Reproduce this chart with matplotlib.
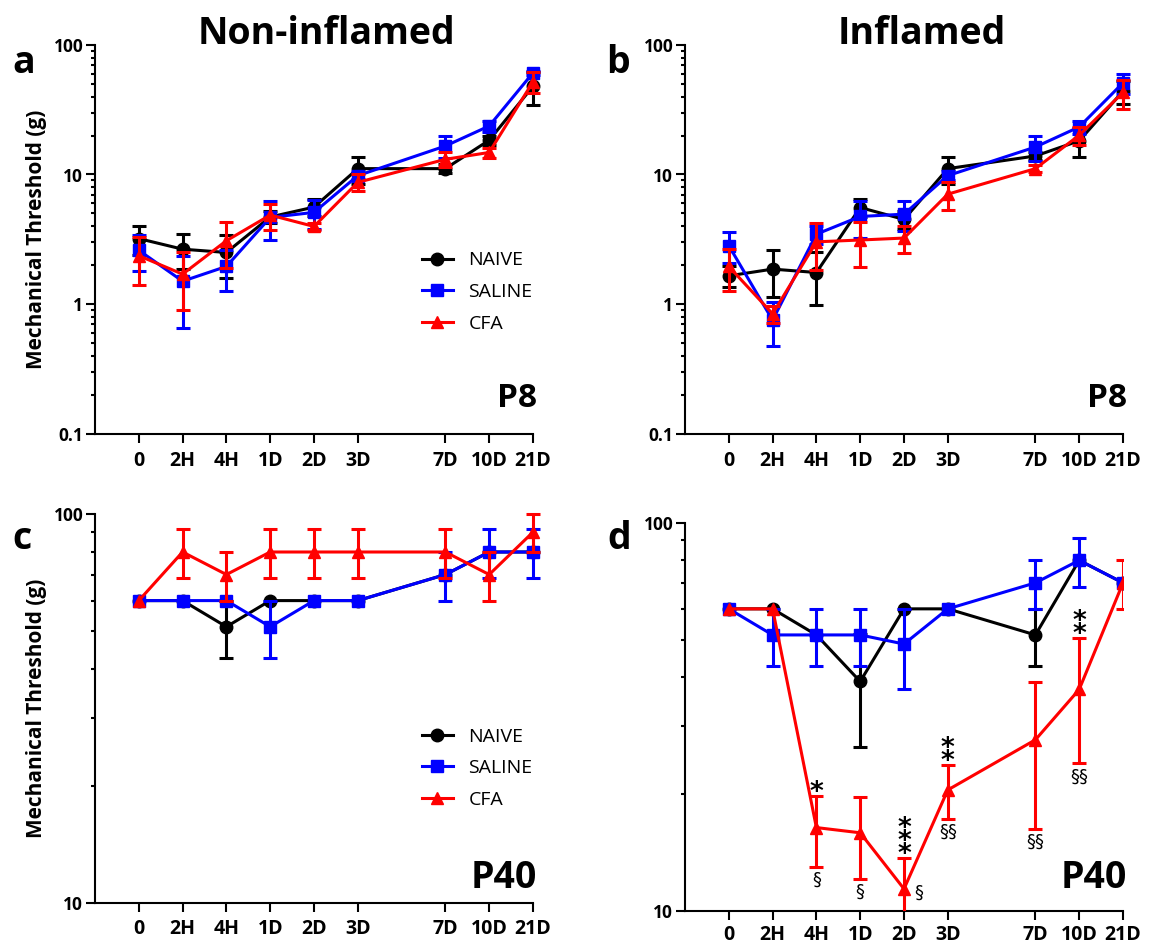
import numpy as np
import matplotlib
matplotlib.use("Agg")
import matplotlib.pyplot as plt
from matplotlib.ticker import FixedLocator, FixedFormatter, LogLocator, NullFormatter
from matplotlib.textpath import TextPath
from matplotlib.font_manager import FontProperties

plt.rcParams['font.family'] = ['Open Sans', 'DejaVu Sans']

# ---- data -------------------------------------------------------------
timepoints = ['0', '2H', '4H', '1D', '2D', '3D', '7D', '10D', '21D']
x_pos = [0, 1, 2, 3, 4, 5, 7, 8, 9]
groups = ['NAIVE', 'SALINE', 'CFA']

# P8, non-inflamed paw (mean, SEM)
a_naive = [3.2, 2.65, 2.5, 4.7, 5.6, 11.1, 11.1, 18.4, 48.0]
a_naive_sem = [0.8, 0.8, 0.9, 0.5, 0.85, 2.6, 0.9, 1.5, 13.8]
a_saline = [2.6, 1.5, 1.95, 4.66, 5.1, 9.8, 16.6, 23.7, 61.0]
a_saline_sem = [0.8, 0.85, 0.68, 1.55, 1.3, 0.6, 3.3, 2.3, 2.5]
a_cfa = [2.36, 1.70, 3.08, 4.86, 3.97, 8.7, 13.1, 14.8, 52.0]
a_cfa_sem = [0.95, 0.8, 1.2, 1.1, 0.25, 1.3, 1.7, 1.3, 9.5]

# P8, inflamed paw
b_naive = [1.65, 1.86, 1.75, 5.56, 4.5, 11.1, 13.9, 18.2, 44.0]
b_naive_sem = [0.3, 0.73, 0.77, 0.9, 0.7, 2.6, 1.0, 4.5, 9.0]
b_saline = [2.82, 0.75, 3.46, 4.74, 4.94, 9.8, 16.3, 23.3, 51.0]
b_saline_sem = [0.75, 0.28, 0.55, 1.5, 1.25, 0.8, 3.6, 2.7, 9.0]
b_cfa = [1.95, 0.84, 3.02, 3.12, 3.23, 7.05, 11.1, 20.1, 43.0]
b_cfa_sem = [0.7, 0.13, 1.2, 1.2, 0.75, 1.7, 0.7, 3.2, 11.0]

# P40, non-inflamed paw
c_naive = [60, 60, 51.4, 60, 60, 60, 70, 80, 80]
c_naive_sem = [0, 0, 8.6, 0, 0, 0, 0, 0, 0]
c_saline = [60, 60, 60, 51.4, 60, 60, 70, 80, 80]
c_saline_sem = [0, 0, 0, 8.6, 0, 0, 10, 11.5, 11.5]
c_cfa = [60, 80, 70, 80, 80, 80, 80, 70, 90]
c_cfa_sem = [0, 11.5, 10, 11.5, 11.5, 11.5, 11.5, 10, 10]

# P40, inflamed paw
d_naive = [60, 60, 51.4, 39.0, 60, 60, 51.4, 80, 70]
d_naive_sem = [0, 0, 0, 12.6, 0, 0, 8.6, 0, 0]
d_saline = [60, 51.4, 51.4, 51.4, 48.7, 60, 70, 80, 70]
d_saline_sem = [0, 8.6, 8.6, 8.6, 11.3, 0, 10, 11.5, 0]
d_cfa = [60, 60, 16.4, 15.9, 11.4, 20.5, 27.6, 37.2, 70]
d_cfa_sem = [0, 0, 3.4, 3.8, 2.3, 3.2, 11.3, 13.2, 10]

# significance marks for CFA in the inflamed P40 paw
d_stars = ['', '', '*', '', '***', '**', '', '**', '']
d_sections = ['', '', '§', '§', '§', '§§', '§§', '§§', '']

# ---- styling ----------------------------------------------------------
colors = {'NAIVE': '#000000', 'SALINE': '#0000FF', 'CFA': '#FF0000'}
markers = {'NAIVE': 'o', 'SALINE': 's', 'CFA': '^'}
LW = 2.2
MS = 9

W, H = 1150, 946
fig = plt.figure(figsize=(W / 100, H / 100), dpi=100)


def px_rect(left, right, top, bottom):
    return [left / W, 1 - bottom / H, (right - left) / W, (bottom - top) / H]


ax_a = fig.add_axes(px_rect(95, 533, 45, 433.5))
ax_b = fig.add_axes(px_rect(685, 1123, 45, 433.5))
ax_c = fig.add_axes(px_rect(95, 533, 514.3, 903.3))
ax_d = fig.add_axes(px_rect(685, 1123, 522.7, 911))


def draw_panel(ax, series, ylim, yticks, clip, stage, stage_size, stage_base,
               xpad):
    x = np.array(x_pos, dtype=float)
    for z, (name, vals, sem) in enumerate(series):
        vals = np.asarray(vals, dtype=float)
        sem = np.asarray(sem, dtype=float)
        c = colors[name]
        ax.plot(x, vals, color=c, lw=LW, marker=markers[name], ms=MS,
                mec=c, mfc=c, zorder=3 + z, clip_on=clip, label=name)
        m = sem > 0
        eb = ax.errorbar(x[m], vals[m], yerr=sem[m], fmt='none', ecolor=c,
                         elinewidth=LW, capsize=5, capthick=LW, zorder=3 + z)
        for art in eb.get_children():
            art.set_clip_on(clip)
    ax.set_yscale('log')
    ax.set_ylim(*ylim)
    ax.set_xlim(-1, 9)
    ax.yaxis.set_major_locator(FixedLocator(yticks))
    ax.yaxis.set_major_formatter(FixedFormatter([f'{t:g}' for t in yticks]))
    ax.yaxis.set_minor_locator(LogLocator(base=10, subs=np.arange(2, 10)))
    ax.yaxis.set_minor_formatter(NullFormatter())
    ax.set_xticks(x_pos)
    ax.set_xticklabels(timepoints)
    ax.xaxis.set_minor_locator(FixedLocator([]))
    for s in ('top', 'right'):
        ax.spines[s].set_visible(False)
    for s in ('left', 'bottom'):
        ax.spines[s].set_linewidth(1.5)
    ax.tick_params(axis='both', which='major', direction='out', length=6.5,
                   width=1.5, color='black')
    ax.tick_params(axis='y', which='minor', direction='out', length=3,
                   width=1.5)
    ax.tick_params(axis='y', which='major', labelsize=12.5, pad=2)
    ax.tick_params(axis='x', which='major', labelsize=14, pad=xpad)
    for lab in ax.get_xticklabels() + ax.get_yticklabels():
        lab.set_fontweight('bold')
    # stage label in the lower right corner, baseline given in pixels
    bb = ax.get_position()
    y_ax = ((1 - stage_base / H) - bb.y0) / bb.height
    ax.text(1.009, y_ax, stage, transform=ax.transAxes, ha='right',
            va='baseline', fontsize=stage_size, fontweight='bold')


draw_panel(ax_a, [('NAIVE', a_naive, a_naive_sem),
                  ('SALINE', a_saline, a_saline_sem),
                  ('CFA', a_cfa, a_cfa_sem)],
           (0.1, 100), [0.1, 1, 10, 100], False, 'P8', 24, 407, 6)
draw_panel(ax_b, [('NAIVE', b_naive, b_naive_sem),
                  ('SALINE', b_saline, b_saline_sem),
                  ('CFA', b_cfa, b_cfa_sem)],
           (0.1, 100), [0.1, 1, 10, 100], False, 'P8', 24, 407, 6)
draw_panel(ax_c, [('NAIVE', c_naive, c_naive_sem),
                  ('SALINE', c_saline, c_saline_sem),
                  ('CFA', c_cfa, c_cfa_sem)],
           (10, 100), [10, 100], False, 'P40', 27, 888, 4.5)
draw_panel(ax_d, [('NAIVE', d_naive, d_naive_sem),
                  ('SALINE', d_saline, d_saline_sem),
                  ('CFA', d_cfa, d_cfa_sem)],
           (10, 100), [10, 100], True, 'P40', 27, 888, 3.5)

# y labels
for ax in (ax_a, ax_c):
    ax.set_ylabel('Mechanical Threshold (g)', fontsize=15, fontweight='bold')
    ax.yaxis.set_label_coords((47 - 95) / 438, 0.5)

# legends
for ax, yc in ((ax_a, 292), (ax_c, 768.3)):
    ax.legend(loc='center left', bbox_to_anchor=(421.7 / W, 1 - yc / H),
              bbox_transform=fig.transFigure, frameon=False,
              handlelength=1.6, handletextpad=0.8, labelspacing=0.7,
              borderpad=0, borderaxespad=0,
              prop={'size': 14, 'weight': 'normal'})

# column titles and panel letters
fig.text(326 / W, 1 - 44 / H, 'Non-inflamed', ha='center', va='baseline',
         fontsize=27, fontweight='bold')
fig.text(922 / W, 1 - 44 / H, 'Inflamed', ha='center', va='baseline',
         fontsize=27, fontweight='bold')
for letter, xl, yl in (('a', 12, 73), ('b', 606, 73), ('c', 12, 549), ('d', 607, 549)):
    fig.text(xl / W, 1 - yl / H, letter, ha='left', va='baseline',
             fontsize=27, fontweight='bold')

# significance marks
star_prop = FontProperties(family='DejaVu Sans', weight='bold')
sect_prop = FontProperties(family='DejaVu Sans')
STAR_SIZE = 19
SECT_SIZE = 13
PT = 0.72  # points per pixel at 100 dpi


def ink_extent(s, size, prop):
    return TextPath((0, 0), s, size=size, prop=prop).get_extents()


star_ext = ink_extent('*', STAR_SIZE, star_prop)
star_c = (star_ext.y0 + star_ext.y1) / 2
lp_ext = ink_extent('lp', STAR_SIZE, star_prop)
lp_asc, lp_desc = lp_ext.y1, -lp_ext.y0
STAR_STEP = 12.5 * PT
star_ls = (STAR_STEP - lp_desc) / lp_asc
sect_ext = ink_extent('§', SECT_SIZE, sect_prop)
sect_c = (sect_ext.y0 + sect_ext.y1) / 2

for i, xp in enumerate(x_pos):
    v = d_cfa[i]
    e = d_cfa_sem[i]
    top = v + e
    bot = v - e
    if d_stars[i]:
        stack = '\n'.join(d_stars[i])
        # lowest asterisk centred 9 px above the upper error cap
        off = 9 * PT - star_c - lp_desc
        ax_d.annotate(stack, xy=(xp, top), xytext=(0, off),
                      textcoords='offset points', ha='center', va='bottom',
                      multialignment='center', linespacing=star_ls,
                      fontsize=STAR_SIZE, fontproperties=star_prop,
                      annotation_clip=False)
    if d_sections[i]:
        if bot > ax_d.get_ylim()[0]:
            ax_d.annotate(d_sections[i], xy=(xp, bot),
                          xytext=(0, -12.5 * PT - sect_c),
                          textcoords='offset points', ha='center', va='baseline',
                          fontsize=SECT_SIZE, fontproperties=sect_prop,
                          annotation_clip=False)
        else:
            ax_d.annotate(d_sections[i], xy=(xp, v),
                          xytext=(14.5 * PT, -3 * PT - sect_c),
                          textcoords='offset points', ha='center', va='baseline',
                          fontsize=SECT_SIZE, fontproperties=sect_prop,
                          annotation_clip=False)

fig.savefig('out.png', dpi=100)
